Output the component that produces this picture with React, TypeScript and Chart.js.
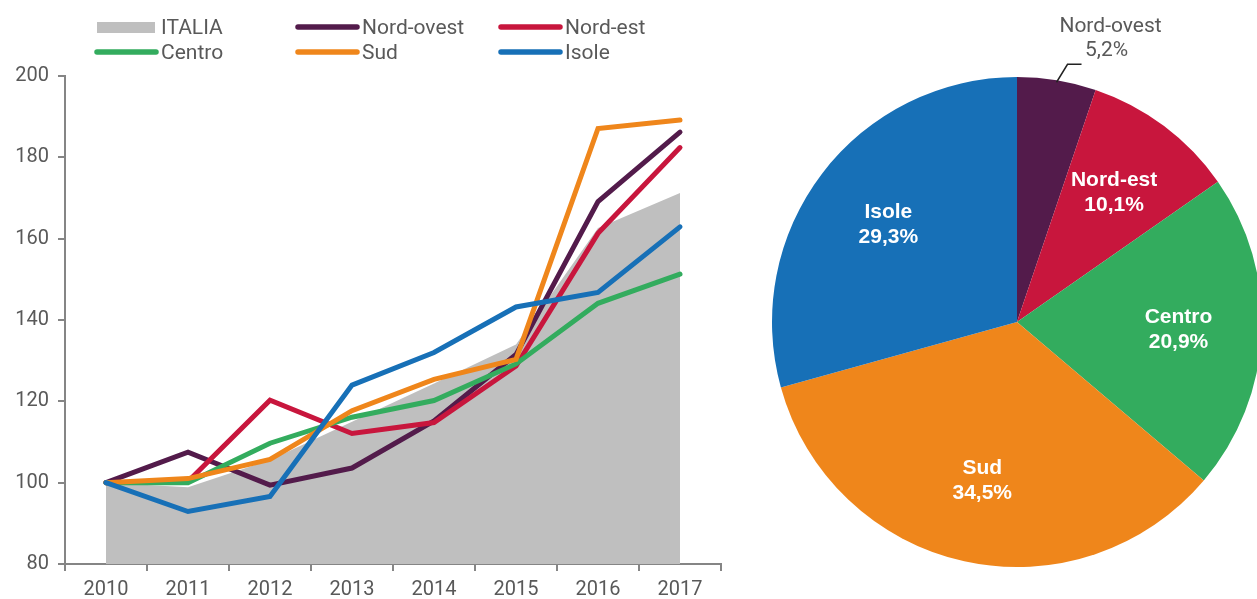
import React, { useEffect, useRef } from "react";
import { Chart, registerables } from "chart.js";

Chart.register(...registerables);

const years = ["2010", "2011", "2012", "2013", "2014", "2015", "2016", "2017"];
const italia = [100, 98.9, 105.6, 115, 124.4, 134, 162.6, 171.2];
const nordOvest = [100, 107.5, 99.4, 103.6, 115.2, 131.5, 169.1, 186.2];
const nordEst = [100, 100.3, 120.3, 112.1, 114.8, 128.7, 161.3, 182.4];
const centro = [100, 100, 109.7, 116.1, 120.2, 129.2, 144.1, 151.3];
const sud = [100, 101, 105.7, 117.7, 125.4, 130.3, 187.1, 189.2];
const isole = [100, 92.9, 96.6, 124.0, 132.0, 143.2, 146.8, 162.9];

const yTicks = [80, 100, 120, 140, 160, 180, 200];

const pieLabels = ["Nord-ovest", "Nord-est", "Centro", "Sud", "Isole"];
const pieValues = [5.2, 10.1, 20.9, 34.5, 29.3];
const pieTexts = ["5,2%", "10,1%", "20,9%", "34,5%", "29,3%"];

const COLORS = {
  italia: "#BFBFBF",
  nordOvest: "#531B4B",
  nordEst: "#C8163D",
  centro: "#33AC5E",
  sud: "#EF861B",
  isole: "#1770B7",
};
const TEXT = "#595959";
const AXIS = "#858585";

const legendItems = [
  { label: "ITALIA", color: COLORS.italia, box: true, x: 97, y: 27 },
  { label: "Nord-ovest", color: COLORS.nordOvest, box: false, x: 298, y: 27 },
  { label: "Nord-est", color: COLORS.nordEst, box: false, x: 501, y: 27 },
  { label: "Centro", color: COLORS.centro, box: false, x: 97, y: 52 },
  { label: "Sud", color: COLORS.sud, box: false, x: 298, y: 52 },
  { label: "Isole", color: COLORS.isole, box: false, x: 501, y: 52 },
];

const legendPlugin = {
  id: "customLegend",
  afterDraw(chart: any) {
    const ctx = chart.ctx;
    ctx.save();
    legendItems.forEach((it) => {
      if (it.box) {
        ctx.fillStyle = it.color;
        ctx.fillRect(it.x, it.y - 5, 58, 11);
      } else {
        ctx.strokeStyle = it.color;
        ctx.lineWidth = 5.5;
        ctx.lineCap = "round";
        ctx.beginPath();
        ctx.moveTo(it.x, it.y);
        ctx.lineTo(it.x + 59, it.y);
        ctx.stroke();
      }
      ctx.fillStyle = TEXT;
      ctx.font = "21px Roboto";
      ctx.textBaseline = "middle";
      ctx.textAlign = "left";
      ctx.fillText(it.label, it.x + 64, it.y + 1.5);
    });
    ctx.restore();
  },
};

const pieLabelPlugin = {
  id: "pieLabels",
  afterDatasetsDraw(chart: any) {
    const ctx = chart.ctx;
    const meta = chart.getDatasetMeta(0);
    ctx.save();
    meta.data.forEach((arc: any, i: number) => {
      const { x, y, startAngle, endAngle, outerRadius } = arc.getProps(
        ["x", "y", "startAngle", "endAngle", "outerRadius"],
        true
      );
      const mid = (startAngle + endAngle) / 2;
      if (i === 0) {
        const ex = x + Math.cos(mid) * (outerRadius - 2);
        const ey = y + Math.sin(mid) * (outerRadius - 2);
        const bx = ex + 11;
        const by = ey - 18;
        const cx = bx + 14;
        ctx.strokeStyle = "#222222";
        ctx.lineWidth = 1.5;
        ctx.beginPath();
        ctx.moveTo(ex, ey);
        ctx.lineTo(bx, by);
        ctx.lineTo(cx, by);
        ctx.stroke();
        ctx.fillStyle = TEXT;
        ctx.font = "21px Roboto";
        ctx.textAlign = "center";
        ctx.textBaseline = "middle";
        ctx.fillText(pieLabels[i], cx + 29, by - 37);
        ctx.fillText(pieTexts[i], cx + 25, by - 13);
      } else {
        const r = outerRadius * 0.66;
        const px = x + Math.cos(mid) * r;
        const py = y + Math.sin(mid) * r;
        ctx.fillStyle = "#FFFFFF";
        ctx.font = "bold 21px 'Liberation Sans', Arial, sans-serif";
        ctx.textAlign = "center";
        ctx.textBaseline = "middle";
        ctx.fillText(pieLabels[i], px, py - 12);
        ctx.fillText(pieTexts[i], px, py + 13);
      }
    });
    ctx.restore();
  },
};

function lineDs(label: string, data: number[], color: string, order: number) {
  return {
    label,
    data,
    borderColor: color,
    backgroundColor: color,
    borderWidth: 5,
    borderCapStyle: "round" as const,
    borderJoinStyle: "miter" as const,
    pointRadius: 0,
    fill: false,
    tension: 0,
    order,
  };
}

export default function App() {
  const lineRef = useRef<HTMLCanvasElement>(null);
  const pieRef = useRef<HTMLCanvasElement>(null);

  useEffect(() => {
    const lineChart = new Chart(lineRef.current!, {
      type: "line",
      data: {
        labels: years,
        datasets: [
          {
            label: "ITALIA",
            data: italia,
            borderWidth: 0,
            borderColor: COLORS.italia,
            backgroundColor: COLORS.italia,
            pointRadius: 0,
            fill: "start",
            tension: 0,
            order: 10,
          },
          lineDs("Nord-ovest", nordOvest, COLORS.nordOvest, 5),
          lineDs("Nord-est", nordEst, COLORS.nordEst, 4),
          lineDs("Centro", centro, COLORS.centro, 3),
          lineDs("Sud", sud, COLORS.sud, 2),
          lineDs("Isole", isole, COLORS.isole, 1),
        ],
      },
      options: {
        responsive: false,
        animation: false,
        devicePixelRatio: 1,
        layout: { padding: { top: 76, right: 19, left: 0, bottom: 0 } },
        plugins: { legend: { display: false }, tooltip: { enabled: false } },
        scales: {
          x: {
            offset: true,
            grid: {
              offset: true,
              drawOnChartArea: false,
              drawTicks: true,
              tickLength: 7,
              color: AXIS,
              lineWidth: 2,
            },
            border: { color: AXIS, width: 2 },
            ticks: {
              color: TEXT,
              font: { family: "Roboto", size: 20 },
              padding: 7,
              maxRotation: 0,
            },
            afterFit: (s: any) => {
              s.height = 35;
            },
          },
          y: {
            min: 80,
            max: 200,
            grid: {
              drawOnChartArea: false,
              drawTicks: true,
              tickLength: 7,
              color: AXIS,
              lineWidth: 2,
            },
            border: { color: AXIS, width: 2 },
            afterBuildTicks: (s: any) => {
              s.ticks = yTicks.map((v) => ({ value: v }));
            },
            ticks: {
              color: TEXT,
              font: { family: "Roboto", size: 20 },
              padding: 9,
            },
            afterFit: (s: any) => {
              s.width = 65;
            },
          },
        },
      },
      plugins: [legendPlugin],
    });

    const pieChart = new Chart(pieRef.current!, {
      type: "pie",
      data: {
        labels: pieLabels,
        datasets: [
          {
            data: pieValues,
            backgroundColor: [
              COLORS.nordOvest,
              COLORS.nordEst,
              COLORS.centro,
              COLORS.sud,
              COLORS.isole,
            ],
            borderWidth: 0,
          },
        ],
      },
      options: {
        responsive: false,
        animation: false,
        devicePixelRatio: 1,
        layout: { padding: { left: 15, right: 15, top: 77, bottom: 32 } },
        plugins: { legend: { display: false }, tooltip: { enabled: false } },
      },
      plugins: [pieLabelPlugin],
    });

    return () => {
      lineChart.destroy();
      pieChart.destroy();
    };
  }, []);

  return (
    <div
      style={{
        position: "fixed",
        left: 0,
        top: 0,
        width: 1257,
        height: 599,
        overflow: "hidden",
        background: "#FFFFFF",
      }}
    >
      <canvas
        ref={lineRef}
        width={740}
        height={599}
        style={{ position: "absolute", left: 0, top: 0, width: 740, height: 599 }}
      />
      <canvas
        ref={pieRef}
        width={520}
        height={599}
        style={{ position: "absolute", left: 757, top: 0, width: 520, height: 599 }}
      />
    </div>
  );
}
